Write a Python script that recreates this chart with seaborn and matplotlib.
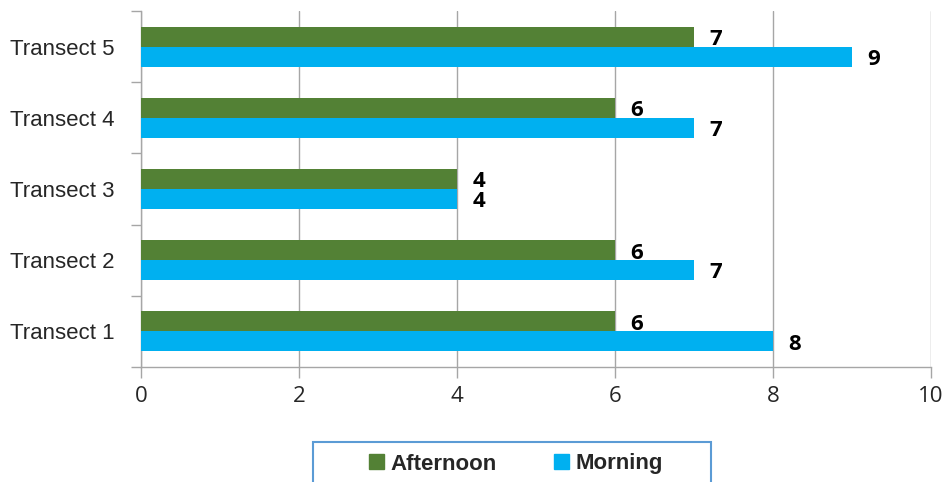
import matplotlib
matplotlib.use("Agg")
import matplotlib.pyplot as plt
import matplotlib.patches as mpatches
import seaborn as sns
import pandas as pd
import numpy as np

categories = ["Transect 1", "Transect 2", "Transect 3", "Transect 4", "Transect 5"]
afternoon = [6, 6, 4, 6, 7]
morning = [8, 7, 4, 7, 9]
series_names = ["Afternoon", "Morning"]
x_ticks = [0, 2, 4, 6, 8, 10]

colors = {"Afternoon": "#538135", "Morning": "#00b0f0"}
gray = "#a6a6a6"

df = pd.DataFrame({
    "Transect": categories * 2,
    "Count": afternoon + morning,
    "Period": ["Afternoon"] * len(categories) + ["Morning"] * len(categories),
})

sns.set_style("white")
plt.rcParams["font.family"] = ["Liberation Sans", "DejaVu Sans"]

fig = plt.figure(figsize=(9.45, 4.82), dpi=100)
ax = fig.add_axes([141 / 945, 1 - 367 / 482, 790 / 945, 356 / 482])

sns.barplot(data=df, y="Transect", x="Count", hue="Period", hue_order=series_names,
            order=categories[::-1], palette=colors, width=0.56, orient="h",
            ax=ax, legend=False, saturation=1, linewidth=0, zorder=3)

for cont in ax.containers:
    texts = ax.bar_label(cont, padding=11, fontsize=16, fontweight="bold",
                         family=["Open Sans", "DejaVu Sans"], color="black")
    for t in texts:
        t.xyann = (11, -2)

ax.set_xlim(0, 10)
ax.set_ylim(len(categories) - 0.5, -0.5)
ax.set_xticks(x_ticks)
ax.set_xticklabels([str(t) for t in x_ticks], fontsize=16,
                   family=["Open Sans", "DejaVu Sans"])
ax.tick_params(axis="x", bottom=True, length=8, width=1, color=gray, pad=6)
ax.tick_params(axis="y", left=True, length=0, labelsize=16, pad=19)
ax.set_yticks(np.arange(-0.5, len(categories), 1.0), minor=True)
ax.tick_params(axis="y", which="minor", left=True, length=7, width=1, color=gray)
ax.set_xlabel("")
ax.set_ylabel("")
ax.xaxis.grid(True, color=gray, linewidth=1, zorder=0)
ax.yaxis.grid(False)
for s in ["top", "right"]:
    ax.spines[s].set_visible(False)
for s in ["left", "bottom"]:
    ax.spines[s].set_color(gray)
    ax.spines[s].set_linewidth(1)

# legend frame
rect = mpatches.Rectangle((313 / 945, -0.05), 398 / 945, (482 - 442) / 482 + 0.05,
                          transform=fig.transFigure, fill=False,
                          edgecolor="#5b9bd5", linewidth=1.5)
fig.patches.append(rect)
handles = [mpatches.Patch(color=colors[n], label=n) for n in series_names]
fig.legend(handles=handles, loc="center", bbox_to_anchor=(516 / 945, 1 - 464 / 482),
           ncol=2, frameon=False, prop={"weight": "bold", "size": 16},
           handlelength=0.65, handleheight=0.65, handletextpad=0.3,
           columnspacing=2.6)

fig.savefig("out.png", dpi=100)
